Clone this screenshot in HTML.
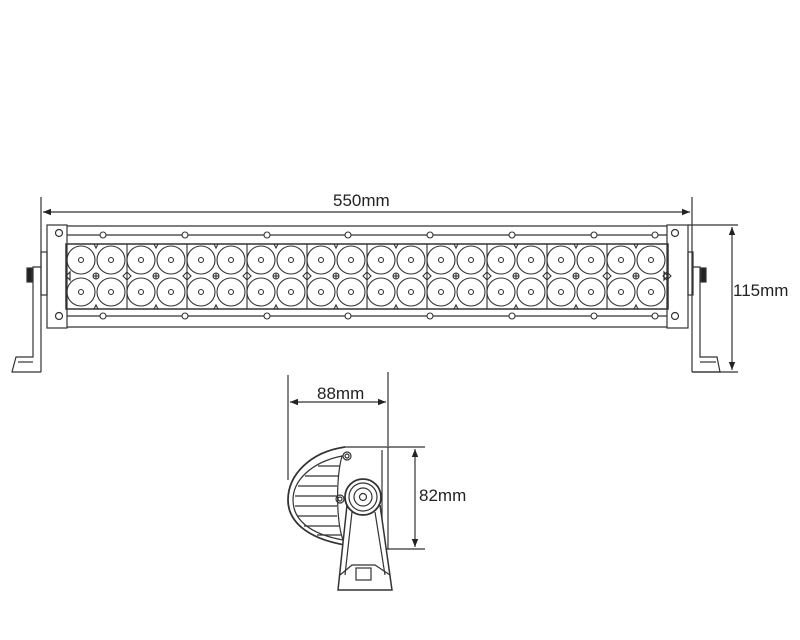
<!DOCTYPE html>
<html><head><style>body{margin:0;background:#fff}svg{display:block}text{font-family:"Liberation Sans",sans-serif;font-size:17px;fill:#222}</style></head>
<body>
<svg width="800" height="640" viewBox="0 0 800 640" xmlns="http://www.w3.org/2000/svg">
<defs>
<marker id="a" viewBox="0 0 10 10" refX="10" refY="5" markerWidth="10" markerHeight="8" orient="auto-start-reverse" markerUnits="userSpaceOnUse"><path d="M0,1 L10,5 L0,9 Z" fill="#222"/></marker>
<g id="grp" stroke="#333" stroke-width="1.1" fill="none">
<circle cx="0" cy="260" r="14"/><circle cx="0" cy="260" r="2.5"/>
<circle cx="30" cy="260" r="14"/><circle cx="30" cy="260" r="2.5"/>
<circle cx="0" cy="292" r="14"/><circle cx="0" cy="292" r="2.5"/>
<circle cx="30" cy="292" r="14"/><circle cx="30" cy="292" r="2.5"/>
<circle cx="15" cy="276" r="3"/><line x1="12" y1="276" x2="18" y2="276"/><line x1="15" y1="273" x2="15" y2="279"/>
<line x1="46" y1="244" x2="46" y2="309"/><path d="M42,276 L46,272 L50,276 L46,280 Z"/>
<path d="M13,244 L15,248 L17,244 M13,309 L15,305 L17,309"/>
</g>
</defs>
<g stroke="#333" stroke-width="1.2" fill="none">
<line x1="41" y1="197" x2="41" y2="372"/>
<line x1="692" y1="197" x2="692" y2="372"/>
<line x1="43" y1="212" x2="690" y2="212" marker-start="url(#a)" marker-end="url(#a)"/>
<line x1="688" y1="225" x2="738" y2="225"/>
<line x1="692" y1="372" x2="738" y2="372"/>
<line x1="732" y1="227" x2="732" y2="370" marker-start="url(#a)" marker-end="url(#a)"/>
<rect x="47" y="225" width="20" height="103"/>
<rect x="667" y="225" width="21" height="103"/>
<circle cx="59" cy="233" r="3.5"/><circle cx="59" cy="316" r="3.5"/>
<circle cx="675" cy="233" r="3.5"/><circle cx="675" cy="316" r="3.5"/>
<line x1="67" y1="226" x2="667" y2="226"/>
<line x1="67" y1="235" x2="667" y2="235"/>
<line x1="67" y1="316" x2="667" y2="316"/>
<line x1="67" y1="327" x2="667" y2="327"/>
<rect x="66" y="244" width="602" height="65" stroke-width="1.5"/>
<path d="M66,276 L70,272 L70,280 Z M668,276 L664,272 L664,280 Z"/>
<rect x="41" y="252" width="6" height="43"/>
<path d="M41,267 L33,267 L33,357 L16,357 L12,372 L41,372"/>
<path d="M33,362 L18,362"/>
<rect x="27" y="268" width="5" height="14" fill="#222"/>
<rect x="688" y="252" width="5" height="43"/>
<path d="M692,267 L700,267 L700,357 L717,357 L720,372 L692,372"/>
<path d="M700,362 L716,362"/>
<rect x="701" y="268" width="5" height="14" fill="#222"/>
<g stroke-width="1.1">
<circle cx="103" cy="235" r="3" fill="#fff"/><circle cx="103" cy="316" r="3" fill="#fff"/>
<circle cx="185" cy="235" r="3" fill="#fff"/><circle cx="185" cy="316" r="3" fill="#fff"/>
<circle cx="267" cy="235" r="3" fill="#fff"/><circle cx="267" cy="316" r="3" fill="#fff"/>
<circle cx="348" cy="235" r="3" fill="#fff"/><circle cx="348" cy="316" r="3" fill="#fff"/>
<circle cx="430" cy="235" r="3" fill="#fff"/><circle cx="430" cy="316" r="3" fill="#fff"/>
<circle cx="512" cy="235" r="3" fill="#fff"/><circle cx="512" cy="316" r="3" fill="#fff"/>
<circle cx="594" cy="235" r="3" fill="#fff"/><circle cx="594" cy="316" r="3" fill="#fff"/>
<circle cx="655" cy="235" r="3" fill="#fff"/><circle cx="655" cy="316" r="3" fill="#fff"/>
</g>
</g>
<use href="#grp" x="81"/><use href="#grp" x="141"/><use href="#grp" x="201"/><use href="#grp" x="261"/><use href="#grp" x="321"/>
<use href="#grp" x="381"/><use href="#grp" x="441"/><use href="#grp" x="501"/><use href="#grp" x="561"/><use href="#grp" x="621"/>
<text x="333" y="206">550mm</text>
<text x="733" y="296">115mm</text>
<g stroke="#333" stroke-width="1.2" fill="none">
<line x1="288" y1="375" x2="288" y2="480"/>
<line x1="388" y1="372" x2="388" y2="446"/>
<line x1="290" y1="402" x2="386" y2="402" marker-start="url(#a)" marker-end="url(#a)"/>
<line x1="388" y1="447" x2="425" y2="447"/>
<line x1="385" y1="549" x2="425" y2="549"/>
<line x1="415" y1="449" x2="415" y2="547" marker-start="url(#a)" marker-end="url(#a)"/>
<path d="M345,447 L388,447 L388,549 L368,549"/>
<line x1="382" y1="450" x2="382" y2="546"/>
<path d="M345,447 C310,452 288,475 288,500 C288,520 305,538 345,545" stroke-width="1.8"/>
<path d="M342,456 C312,462 293,480 293,500 C293,520 310,534 343,540 C336,520 336,478 342,456 Z"/>
<g stroke-width="1.2">
<line x1="318" y1="466" x2="340" y2="466"/><line x1="305" y1="476" x2="338" y2="476"/>
<line x1="298" y1="486" x2="337" y2="486"/><line x1="295" y1="496" x2="337" y2="496"/>
<line x1="295" y1="506" x2="337" y2="506"/><line x1="298" y1="516" x2="337" y2="516"/>
<line x1="304" y1="526" x2="339" y2="526"/><line x1="317" y1="535" x2="341" y2="535"/>
</g>
<circle cx="347" cy="456" r="4"/><circle cx="347" cy="456" r="2"/>
<circle cx="340" cy="499" r="4"/><circle cx="340" cy="499" r="2"/>
<path d="M347,505 L338,590 L392,590 L380,505" fill="#fff" stroke-width="1.5"/>
<path d="M352,512 L345,575 M375,512 L385,575"/>
<path d="M340,575 L352,565 L375,565 L390,575"/>
<rect x="356" y="568" width="15" height="12"/>
<circle cx="363" cy="497" r="18" fill="#fff" stroke-width="1.8"/>
<circle cx="363" cy="497" r="14"/>
<circle cx="363" cy="497" r="9"/>
<circle cx="363" cy="497" r="3.5"/>
</g>
<text x="317" y="399">88mm</text>
<text x="419" y="501">82mm</text>
</svg>
</body></html>
